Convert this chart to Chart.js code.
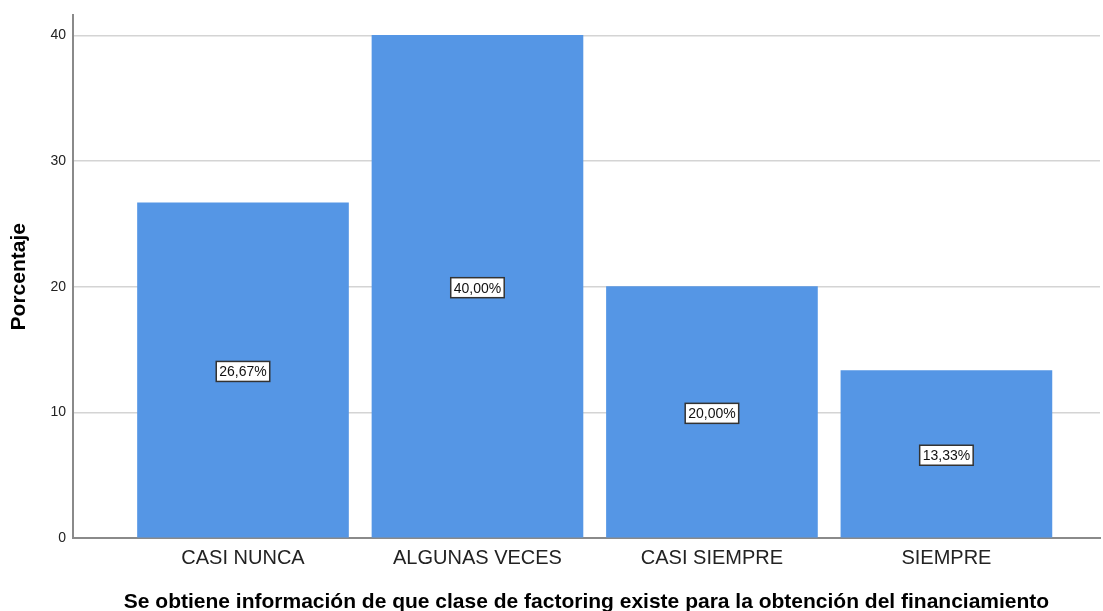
<!DOCTYPE html>
<html>
<head>
<meta charset="utf-8">
<script src="https://cdn.jsdelivr.net/npm/chart.js@4/dist/chart.umd.min.js"></script>
<style>
	html, body { margin: 0; padding: 0; background: #fff; }
	#wrap { width: 1103px; height: 611px; }
</style>
</head>
<body>
<div id="wrap"><canvas id="barChart" width="1103" height="611"></canvas></div>
<script>
	const categories = ['CASI NUNCA', 'ALGUNAS VECES', 'CASI SIEMPRE', 'SIEMPRE'];
	const percentages = [26.67, 40.00, 20.00, 13.33];
	const yTicks = [0, 10, 20, 30, 40];

	const fontFamily = '"Liberation Sans", Arial, sans-serif';
	const barColor = '#5596E5';

	// white boxed value labels in the middle of each bar
	const valueBoxes = {
		id: 'valueBoxes',
		afterDatasetsDraw(chart) {
			const ctx = chart.ctx;
			const meta = chart.getDatasetMeta(0);
			const yScale = chart.scales.y;
			ctx.save();
			ctx.font = '14px ' + fontFamily;
			ctx.textAlign = 'center';
			ctx.textBaseline = 'middle';
			meta.data.forEach((bar, i) => {
				const text = percentages[i].toFixed(2).replace('.', ',') + '%';
				const cy = yScale.getPixelForValue(percentages[i] / 2) + 1;
				const w = ctx.measureText(text).width + 6;
				const h = 20;
				ctx.fillStyle = '#ffffff';
				ctx.fillRect(bar.x - w / 2, cy - h / 2, w, h);
				ctx.strokeStyle = '#333333';
				ctx.lineWidth = 1.5;
				ctx.strokeRect(bar.x - w / 2, cy - h / 2, w, h);
				ctx.fillStyle = '#111111';
				ctx.fillText(text, bar.x, cy + 1);
			});
			ctx.restore();
		}
	};

	new Chart(document.getElementById('barChart'), {
		type: 'bar',
		data: {
			datasets: [{
				data: percentages.map((v, i) => ({ x: i, y: v })),
				backgroundColor: barColor,
				borderWidth: 0,
				barThickness: 211
			}]
		},
		options: {
			responsive: false,
			animation: false,
			layout: { padding: { top: 11, right: 3, left: 0, bottom: 0 } },
			plugins: {
				legend: { display: false },
				tooltip: { enabled: false }
			},
			scales: {
				x: {
					type: 'linear',
					offset: false,
					min: -0.725,
					max: 3.655,
					afterBuildTicks: (axis) => {
						axis.ticks = categories.map((c, i) => ({ value: i }));
					},
					afterFit: (axis) => { axis.height = 73; },
					grid: { display: false, drawTicks: false, offset: false },
					border: { display: true, color: '#8a8a8a', width: 2 },
					ticks: {
						autoSkip: false,
						maxRotation: 0,
						padding: 8,
						color: '#222222',
						font: { family: fontFamily, size: 20 },
						callback: (value) => categories[value]
					},
					title: {
						display: true,
						text: 'Se obtiene información de que clase de factoring existe para la obtención del financiamiento',
						color: '#000000',
						font: { family: fontFamily, size: 21, weight: 'bold', lineHeight: 0.8 },
						padding: { top: 0, bottom: 0 }
					}
				},
				y: {
					min: 0,
					max: 41.59,
					afterBuildTicks: (axis) => {
						axis.ticks = yTicks.map((v) => ({ value: v }));
					},
					afterFit: (axis) => { axis.width = 73; },
					grid: { color: '#d4d4d4', lineWidth: 1.5, drawTicks: false },
					border: { display: true, color: '#8a8a8a', width: 2 },
					ticks: {
						padding: 7,
						color: '#222222',
						font: { family: fontFamily, size: 14 }
					},
					title: {
						display: true,
						text: 'Porcentaje',
						color: '#000000',
						font: { family: fontFamily, size: 21, weight: 'bold' },
						padding: { top: 7, bottom: 0 }
					}
				}
			}
		},
		plugins: [valueBoxes]
	});
</script>
</body>
</html>
